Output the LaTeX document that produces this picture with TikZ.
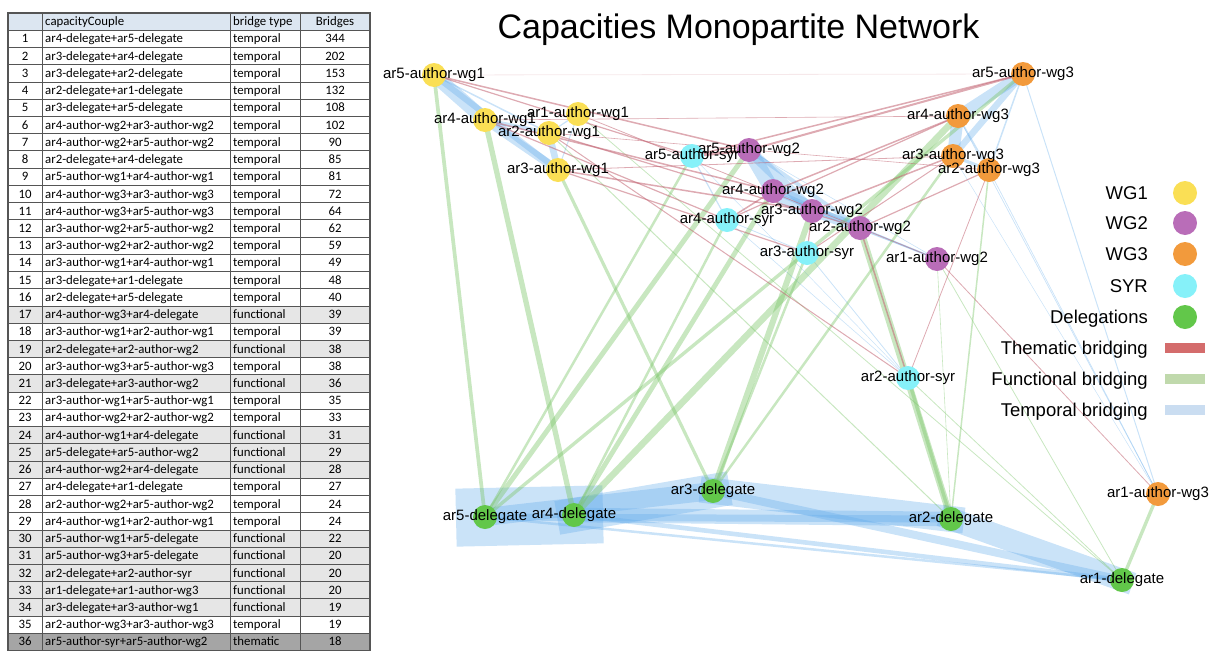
\documentclass[tikz,border=0pt]{standalone}
\usepackage{fontspec}
\setmainfont{Liberation Sans}
\newfontfamily\tabfont{Carlito}
\pgfdeclarelayer{bg}
\pgfdeclarelayer{fg}
\pgfsetlayers{bg,main,fg}
\definecolor{cwgone}{HTML}{FADF55}
\definecolor{cwgtwo}{HTML}{B96DB8}
\definecolor{cwgthree}{HTML}{F29A3C}
\definecolor{csyr}{HTML}{86F1F9}
\definecolor{cdel}{HTML}{62C74A}
\definecolor{ctmp}{HTML}{5FA9EA}
\definecolor{cfun}{HTML}{7CC66A}
\definecolor{cthm}{HTML}{C26473}
\definecolor{lthm}{HTML}{D46C6C}
\definecolor{lfun}{HTML}{C0D9AC}
\definecolor{ltmp}{HTML}{CADDF1}
\definecolor{hdr}{HTML}{DCE6F1}
\definecolor{rfun}{HTML}{E6E6E6}
\definecolor{rthm}{HTML}{A5A5A5}
\definecolor{gridc}{HTML}{555555}
\tikzset{
  vtx/.style={circle, inner sep=0pt, minimum size=24pt},
  lbl/.style={font=\fontsize{15}{17}\selectfont, inner sep=0pt},
  lgtxt/.style={font=\fontsize{18.5}{21}\selectfont, inner sep=0pt, anchor=base east},
  lgbar/.style={rectangle, inner sep=0pt, minimum width=40pt, minimum height=10pt},
  tcell/.style={font=\tabfont\fontsize{12.8}{14}\selectfont, inner sep=0pt},
  tmp/.style={draw=ctmp, draw opacity=0.33, line cap=rect},
  fun/.style={draw=cfun, draw opacity=0.42},
  thm/.style={draw=cthm, draw opacity=0.55},
  gridline/.style={draw=gridc, line width=0.7pt},
}
\begin{document}
\begin{tikzpicture}[x=1pt,y=-1pt]
\useasboundingbox (0,0) rectangle (1216,651);
% ---------------- table ----------------
\fill[hdr] (8,13) rectangle (370,30.23);
\node[tcell, anchor=base west] (h2) at (45,25.7) {capacityCouple};
\node[tcell, anchor=base west] (h3) at (233,25.7) {bridge type};
\node[tcell, anchor=base] (h4) at (335,25.7) {Bridges};
\foreach \i/\cc/\bt/\b/\fc in {
1/ar4-delegate+ar5-delegate/temporal/344/white,
2/ar3-delegate+ar4-delegate/temporal/202/white,
3/ar3-delegate+ar2-delegate/temporal/153/white,
4/ar2-delegate+ar1-delegate/temporal/132/white,
5/ar3-delegate+ar5-delegate/temporal/108/white,
6/ar4-author-wg2+ar3-author-wg2/temporal/102/white,
7/ar4-author-wg2+ar5-author-wg2/temporal/90/white,
8/ar2-delegate+ar4-delegate/temporal/85/white,
9/ar5-author-wg1+ar4-author-wg1/temporal/81/white,
10/ar4-author-wg3+ar3-author-wg3/temporal/72/white,
11/ar4-author-wg3+ar5-author-wg3/temporal/64/white,
12/ar3-author-wg2+ar5-author-wg2/temporal/62/white,
13/ar3-author-wg2+ar2-author-wg2/temporal/59/white,
14/ar3-author-wg1+ar4-author-wg1/temporal/49/white,
15/ar3-delegate+ar1-delegate/temporal/48/white,
16/ar2-delegate+ar5-delegate/temporal/40/white,
17/ar4-author-wg3+ar4-delegate/functional/39/rfun,
18/ar3-author-wg1+ar2-author-wg1/temporal/39/white,
19/ar2-delegate+ar2-author-wg2/functional/38/rfun,
20/ar3-author-wg3+ar5-author-wg3/temporal/38/white,
21/ar3-delegate+ar3-author-wg2/functional/36/rfun,
22/ar3-author-wg1+ar5-author-wg1/temporal/35/white,
23/ar4-author-wg2+ar2-author-wg2/temporal/33/white,
24/ar4-author-wg1+ar4-delegate/functional/31/rfun,
25/ar5-delegate+ar5-author-wg2/functional/29/rfun,
26/ar4-author-wg2+ar4-delegate/functional/28/rfun,
27/ar4-delegate+ar1-delegate/temporal/27/white,
28/ar2-author-wg2+ar5-author-wg2/temporal/24/white,
29/ar4-author-wg1+ar2-author-wg1/temporal/24/white,
30/ar5-author-wg1+ar5-delegate/functional/22/rfun,
31/ar5-author-wg3+ar5-delegate/functional/20/rfun,
32/ar2-delegate+ar2-author-syr/functional/20/rfun,
33/ar1-delegate+ar1-author-wg3/functional/20/rfun,
34/ar3-delegate+ar3-author-wg1/functional/19/rfun,
35/ar2-author-wg3+ar3-author-wg3/temporal/19/white,
36/ar5-author-syr+ar5-author-wg2/thematic/18/rthm}{
  \pgfmathsetmacro\yt{13+\i*17.23}
  \pgfmathsetmacro\yb{\yt+12.7}
  \fill[\fc] (8,\yt) rectangle (370,\yt+17.23);
  \node[tcell, anchor=base] (n\i) at (25,\yb) {\i};
  \node[tcell, anchor=base west] (c\i) at (45,\yb) {\cc};
  \node[tcell, anchor=base west] (t\i) at (233,\yb) {\bt};
  \node[tcell, anchor=base] (b\i) at (335,\yb) {\b};
}
\foreach \i in {1,...,36}{
  \draw[gridline] (8,13+\i*17.23) -- (370,13+\i*17.23);
}
\foreach \xx in {42,230,300}{
  \draw[gridline] (\xx,13) -- (\xx,650.5);
}
\draw[draw=gridc, line width=1.2pt] (8,13) rectangle (370,650.5);
% ---------------- title ----------------
\node[font=\fontsize{34}{40}\selectfont, inner sep=0pt, anchor=base] (title) at (738.5,38) {Capacities Monopartite Network};
% ---------------- network nodes ----------------
\node[vtx, fill=cwgone] (a5w1) at (434,75) {};
\node[vtx, fill=cwgone] (a4w1) at (485,120) {};
\node[vtx, fill=cwgone] (a1w1) at (578,114) {};
\node[vtx, fill=cwgone] (a2w1) at (549,133) {};
\node[vtx, fill=cwgone] (a3w1) at (558,170) {};
\node[vtx, fill=csyr] (a5s) at (692,156) {};
\node[vtx, fill=csyr] (a4s) at (727,220) {};
\node[vtx, fill=csyr] (a3s) at (807,253) {};
\node[vtx, fill=csyr] (a2s) at (908,378) {};
\node[vtx, fill=cwgtwo] (a5w2) at (749,150) {};
\node[vtx, fill=cwgtwo] (a4w2) at (773,191) {};
\node[vtx, fill=cwgtwo] (a3w2) at (812,211) {};
\node[vtx, fill=cwgtwo] (a2w2) at (860,228) {};
\node[vtx, fill=cwgtwo] (a1w2) at (937,259) {};
\node[vtx, fill=cwgthree] (a5w3) at (1023,74) {};
\node[vtx, fill=cwgthree] (a4w3) at (958,116) {};
\node[vtx, fill=cwgthree] (a3w3) at (953,156) {};
\node[vtx, fill=cwgthree] (a2w3) at (989,170) {};
\node[vtx, fill=cwgthree] (a1w3) at (1158,494) {};
\node[vtx, fill=cdel] (d5) at (485,517) {};
\node[vtx, fill=cdel] (d4) at (574,515) {};
\node[vtx, fill=cdel] (d3) at (713,491) {};
\node[vtx, fill=cdel] (d2) at (951,519) {};
\node[vtx, fill=cdel] (d1) at (1122,580) {};
% ---------------- edges ----------------
\begin{pgfonlayer}{bg}
\foreach \a/\b/\w in {d4/d5/58, d3/d4/34, d3/d2/26, d2/d1/22.5, d3/d5/18, d2/d4/14.5, d3/d1/8, d2/d5/7, d4/d1/4.6, d5/d1/2.5,
  a4w2/a3w2/17, a4w2/a5w2/15, a5w1/a4w1/14, a4w3/a3w3/12, a4w3/a5w3/11, a3w2/a5w2/10.5, a3w2/a2w2/10, a3w1/a4w1/8.3,
  a3w1/a2w1/6.6, a3w3/a5w3/6.5, a3w1/a5w1/6, a4w2/a2w2/5.6, a2w2/a5w2/4, a4w1/a2w1/4, a2w3/a3w3/3.2,
  a2w3/a5w3/1.5, a2w3/a4w3/1.5, a5w1/a2w1/1.5, a1w1/a2w1/1.2, a1w1/a3w1/1, a2w2/a1w2/1.8, a3w2/a1w2/0.8,
  a5s/a4s/1.2, a4s/a3s/0.8, a3s/a2s/0.8, a4s/a2s/0.6, a5s/a2s/0.5, a5w3/a1w3/1, a4w3/a1w3/0.7, a2w3/a1w3/0.7,
  a3w3/a1w3/0.5, a4w2/a1w2/0.8, a5w2/a1w2/0.6}{
  \draw[tmp, line width=\w pt] (\a.center) -- (\b.center);
}
\foreach \a/\b/\w in {a4w3/d4/6.6, d2/a2w2/6.5, d3/a3w2/6, a4w1/d4/5.3, d5/a5w2/5, a4w2/d4/4.8, a5w1/d5/3.7,
  a5w3/d5/3.4, d2/a2s/3.4, d1/a1w3/3.4, d3/a3w1/3.2, a5s/d5/2.5, a4s/d4/2.5, a3s/d3/2.5, a3w3/d3/2.5,
  a2w3/d2/1.5, a2w1/d2/1, a1w1/d1/0.8, a1w2/d1/0.8, a2s/d1/0.8, a1w2/d2/0.6}{
  \draw[fun, line width=\w pt] (\a.center) -- (\b.center);
}
\foreach \a/\b/\w in {a5s/a5w2/3, a5w1/a5w2/1.5, a5w1/a5s/1.2, a4w1/a4w2/1.5, a4w1/a4s/1.2, a4w1/a4w3/0.6,
  a3w1/a3w2/1.5, a3w1/a3s/1.2, a3w1/a3w3/0.8, a2w1/a2w2/1.2, a2w1/a2s/1, a2w1/a2w3/0.6, a1w1/a1w2/0.8,
  a5w2/a5w3/2, a4w2/a4w3/1.5, a3w2/a3w3/1.5, a2w2/a2w3/1.2, a1w2/a1w3/0.8, a5s/a5w3/1.5, a4s/a4w3/1.2,
  a3s/a3w3/1, a2s/a2w3/0.8, a4s/a4w2/1.5, a3s/a3w2/1.2, a2s/a2w2/1.5}{
  \draw[thm, line width=\w pt] (\a.center) -- (\b.center);
}
\draw[thm, draw opacity=0.15, line width=0.8pt] (a5w1.center) -- (a5w3.center);
\end{pgfonlayer}
% ---------------- labels ----------------
\begin{pgfonlayer}{fg}
\foreach \n/\t in {a5w1/ar5-author-wg1, a4w1/ar4-author-wg1, a1w1/ar1-author-wg1, a2w1/ar2-author-wg1, a3w1/ar3-author-wg1,
  a5s/ar5-author-syr, a4s/ar4-author-syr, a3s/ar3-author-syr, a2s/ar2-author-syr,
  a5w2/ar5-author-wg2, a4w2/ar4-author-wg2, a3w2/ar3-author-wg2, a2w2/ar2-author-wg2, a1w2/ar1-author-wg2,
  a5w3/ar5-author-wg3, a4w3/ar4-author-wg3, a3w3/ar3-author-wg3, a2w3/ar2-author-wg3, a1w3/ar1-author-wg3,
  d5/ar5-delegate, d4/ar4-delegate, d3/ar3-delegate, d2/ar2-delegate, d1/ar1-delegate}{
  \node[lbl] (\n-l) at (\n) {\t};
}
\end{pgfonlayer}
% ---------------- legend ----------------
\node[lgtxt] (lg1) at (1148,199.6) {WG1};
\node[lgtxt] (lg2) at (1148,229.6) {WG2};
\node[lgtxt] (lg3) at (1148,260.6) {WG3};
\node[lgtxt] (lg4) at (1148,292.6) {SYR};
\node[lgtxt] (lg5) at (1148,323.6) {Delegations};
\node[lgtxt] (lg6) at (1148,354.6) {Thematic bridging};
\node[lgtxt] (lg7) at (1148,385.6) {Functional bridging};
\node[lgtxt] (lg8) at (1148,416.6) {Temporal bridging};
\node[vtx, fill=cwgone] (lc1) at (1185,193) {};
\node[vtx, fill=cwgtwo] (lc2) at (1185,223) {};
\node[vtx, fill=cwgthree] (lc3) at (1185,254) {};
\node[vtx, fill=csyr] (lc4) at (1185,286) {};
\node[vtx, fill=cdel] (lc5) at (1185,317) {};
\node[lgbar, fill=lthm] (lb6) at (1185,348) {};
\node[lgbar, fill=lfun] (lb7) at (1185,379) {};
\node[lgbar, fill=ltmp] (lb8) at (1185,410) {};
\end{tikzpicture}
\end{document}
